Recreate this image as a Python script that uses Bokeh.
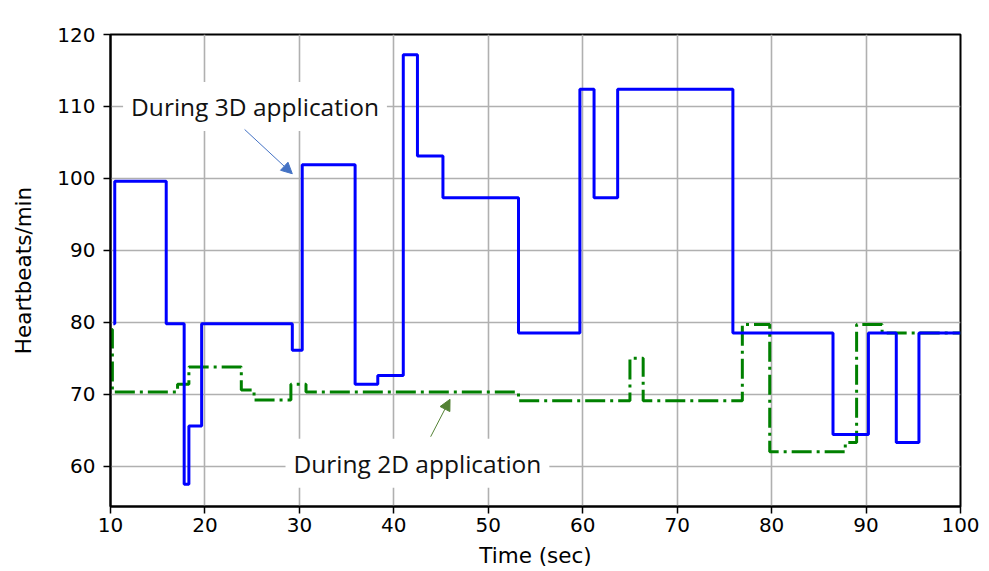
from bokeh.plotting import figure
from bokeh.models import FixedTicker, Label, Arrow, NormalHead, Range1d
from bokeh.embed import file_html
from bokeh.resources import INLINE

# Heart rate during 3D application (step series)
t3d = [10.3, 10.45, 15.9, 17.8, 18.3, 19.65, 29.25, 30.3, 35.9, 38.3, 41.0, 42.5,
       45.2, 53.2, 59.7, 61.2, 63.7, 75.9, 86.5, 90.25, 93.2, 95.6, 100.0]
hr3d = [79.8, 99.6, 79.8, 57.5, 65.6, 79.8, 76.1, 101.9, 71.4, 72.6, 117.2, 103.1,
        97.3, 78.5, 112.4, 97.3, 112.4, 78.5, 64.4, 78.5, 63.3, 78.5, 78.5]

# Heart rate during 2D application (step series)
t2d = [10.1, 10.2, 17.1, 18.3, 23.85, 25.2, 29.1, 30.7, 53.2, 65.0, 66.4, 76.9,
       79.8, 87.8, 89.0, 91.7, 100.0]
hr2d = [79.0, 70.3, 71.4, 73.8, 70.6, 69.2, 71.4, 70.3, 69.1, 75.0, 69.1, 79.7,
        62.0, 63.3, 79.7, 78.5, 78.5]

x_ticks = [10, 20, 30, 40, 50, 60, 70, 80, 90, 100]
y_ticks = [60, 70, 80, 90, 100, 110, 120]

label3d = "During 3D application"
label2d = "During 2D application"
label3d_pos = (25.3, 110.0)
label2d_pos = (42.5, 60.4)
arrow3d = (24.2, 106.8, 29.25, 100.65)
arrow2d = (43.9, 64.1, 45.95, 69.3)

p = figure(width=981, height=570, output_backend="svg", toolbar_location=None,
           x_range=Range1d(10, 100), y_range=Range1d(54.4, 120),
           min_border_left=110, min_border_right=21, min_border_top=34,
           min_border_bottom=64)

p.outline_line_color = "black"
p.outline_line_width = 2
p.background_fill_color = "white"
p.border_fill_color = "white"

for ax in (p.xaxis[0], p.yaxis[0]):
    ax.axis_line_color = "black"
    ax.axis_line_width = 2
    ax.major_tick_line_color = "black"
    ax.major_tick_line_width = 1.5
    ax.major_tick_out = 7
    ax.major_tick_in = 0
    ax.minor_tick_line_color = None
    ax.major_label_text_font = "DejaVu Sans"
    ax.major_label_text_font_size = "20px"
    ax.major_label_text_color = "black"
    ax.axis_label_text_font = "DejaVu Sans"
    ax.axis_label_text_font_size = "21.5px"
    ax.axis_label_text_font_style = "normal"
    ax.axis_label_text_color = "black"

p.xaxis.ticker = FixedTicker(ticks=x_ticks)
p.yaxis.ticker = FixedTicker(ticks=y_ticks)
p.xaxis.axis_label = "Time (sec)"
p.yaxis.axis_label = "Heartbeats/min"
p.xaxis.major_label_standoff = 4
p.xaxis.axis_label_standoff = 8
p.yaxis.major_label_standoff = 8
p.yaxis.axis_label_standoff = 18

p.xgrid.ticker = FixedTicker(ticks=x_ticks)
p.ygrid.ticker = FixedTicker(ticks=y_ticks)
for g in (p.xgrid[0], p.ygrid[0]):
    g.grid_line_color = "#b0b0b0"
    g.grid_line_width = 1.6

p.step(t2d, hr2d, mode="after", line_color="#008000", line_width=3,
       line_dash="20 5 3 5")
p.step(t3d, hr3d, mode="after", line_color="#0000ff", line_width=3)

lab3 = Label(x=label3d_pos[0], y=label3d_pos[1], text=label3d,
             text_font="Open Sans", text_font_size="24.5px", text_color="#111111",
             text_align="center", text_baseline="middle",
             background_fill_color="white", padding=8)
lab2 = Label(x=label2d_pos[0], y=label2d_pos[1], text=label2d,
             text_font="Open Sans", text_font_size="24.5px", text_color="#111111",
             text_align="center", text_baseline="middle",
             background_fill_color="white", padding=8)
p.add_layout(lab3)
p.add_layout(lab2)

p.add_layout(Arrow(x_start=arrow3d[0], y_start=arrow3d[1], x_end=arrow3d[2], y_end=arrow3d[3],
                   line_color="#4472c4", line_width=1,
                   end=NormalHead(size=11, fill_color="#4472c4", line_color="#4472c4")))
p.add_layout(Arrow(x_start=arrow2d[0], y_start=arrow2d[1], x_end=arrow2d[2], y_end=arrow2d[3],
                   line_color="#548235", line_width=1,
                   end=NormalHead(size=11, fill_color="#548235", line_color="#548235")))

open("out.html", "w").write(file_html(p, INLINE))
